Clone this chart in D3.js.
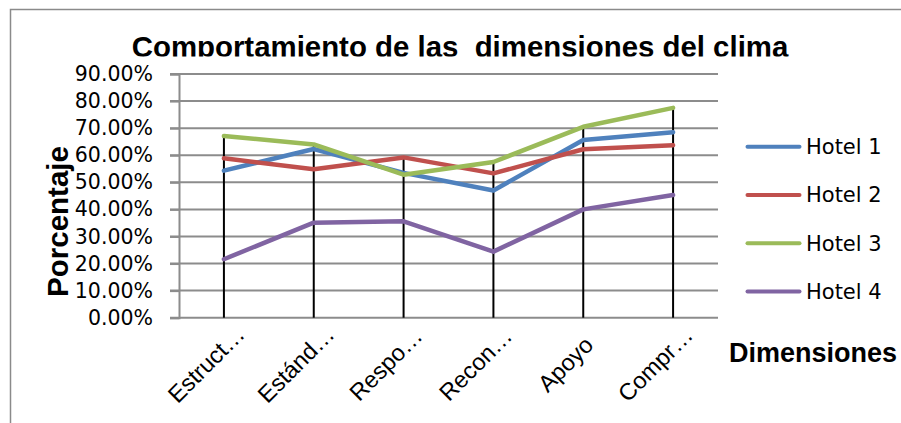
<!DOCTYPE html>
<html>
<head>
<meta charset="utf-8">
<script src="https://cdn.jsdelivr.net/npm/d3@7"></script>
<style>
  html, body { margin: 0; padding: 0; background: #fff; }
  svg { display: block; }
</style>
</head>
<body>
<svg id="chart" width="901" height="423"></svg>
<script>
// ---- data ----
const categories = ["Estruct…", "Estánd…", "Respo…", "Recon…", "Apoyo", "Compr…"];
const seriesNames = ["Hotel 1", "Hotel 2", "Hotel 3", "Hotel 4"];
const hotel1 = [0.543, 0.623, 0.535, 0.470, 0.656, 0.685];
const hotel2 = [0.589, 0.548, 0.592, 0.533, 0.622, 0.637];
const hotel3 = [0.671, 0.640, 0.528, 0.575, 0.705, 0.775];
const hotel4 = [0.216, 0.351, 0.356, 0.244, 0.400, 0.453];
const yTicks = [0, 0.1, 0.2, 0.3, 0.4, 0.5, 0.6, 0.7, 0.8, 0.9];
const colors = ["#4F81BD", "#C0504D", "#9BBB59", "#8064A2"];
const titleText = "Comportamiento de las  dimensiones del clima";
const yTitle = "Porcentaje";
const xTitle = "Dimensiones";

const seriesValues = [hotel1, hotel2, hotel3, hotel4];

// ---- layout ----
const svg = d3.select("#chart");
const plot = { left: 179, right: 718, top: 74, bottom: 317.7 };

const x = d3.scalePoint().domain(categories).range([plot.left, plot.right]).padding(0.5);
const y = d3.scaleLinear().domain([0, 0.9]).range([plot.bottom, plot.top]);

// outer frame (clipped by window)
svg.append("path")
  .attr("d", "M10.5,430 L10.5,9.5 L910,9.5")
  .attr("fill", "none").attr("stroke", "#8a8a8a").attr("stroke-width", 1.5);

// title (clipped at bottom as in reference)
svg.append("clipPath").attr("id", "titleClip")
  .append("rect").attr("x", 0).attr("y", 0).attr("width", 901).attr("height", 56.5);
svg.append("text")
  .attr("clip-path", "url(#titleClip)")
  .attr("x", 460).attr("y", 57)
  .attr("text-anchor", "middle")
  .style("white-space", "pre")
  .attr("font-family", "Liberation Sans, Arial, sans-serif")
  .attr("font-weight", "bold").attr("font-size", 29.4)
  .text(titleText);

// gridlines
svg.append("g").selectAll("line").data(yTicks).join("line")
  .attr("x1", plot.left - 9).attr("x2", plot.right)
  .attr("y1", d => y(d)).attr("y2", d => y(d))
  .attr("stroke", "#8c8c8c").attr("stroke-width", 2);

// y axis
const yAxis = svg.append("g")
  .attr("transform", `translate(${plot.left},0)`)
  .call(d3.axisLeft(y).tickValues(yTicks).tickFormat(d3.format(".2%")).tickSize(9).tickPadding(17));
yAxis.select(".domain").attr("stroke", "#8c8c8c").attr("stroke-width", 2);
yAxis.selectAll(".tick line").attr("stroke", "#8c8c8c").attr("stroke-width", 2);
yAxis.selectAll(".tick text")
  .attr("font-family", "DejaVu Sans, sans-serif").attr("font-size", 20.5)
  .attr("fill", "#000");

// drop lines (max value to axis)
svg.append("g").selectAll("line").data(categories).join("line")
  .attr("x1", d => x(d)).attr("x2", d => x(d))
  .attr("y1", (d, i) => y(d3.max(seriesValues, s => s[i])))
  .attr("y2", y(0))
  .attr("stroke", "#000").attr("stroke-width", 2);

// series lines
const line = d3.line().x((d, i) => x(categories[i])).y(d => y(d));
svg.append("g").selectAll("path").data(seriesValues).join("path")
  .attr("d", d => line(d))
  .attr("fill", "none")
  .attr("stroke", (d, i) => colors[i])
  .attr("stroke-width", 4.5)
  .attr("stroke-linejoin", "round")
  .attr("stroke-linecap", "round");

// x labels
svg.append("g").selectAll("text").data(categories).join("text")
  .attr("transform", d => `translate(${x(d) - 12},${370}) rotate(-45)`)
  .attr("text-anchor", "middle")
  .attr("font-family", "Liberation Sans, Arial, sans-serif")
  .attr("font-size", 23.5)
  .text(d => d);

// axis titles
svg.append("text")
  .attr("transform", "translate(67.5,221.5) rotate(-90)")
  .attr("text-anchor", "middle")
  .attr("font-family", "Liberation Sans, Arial, sans-serif")
  .attr("font-weight", "bold").attr("font-size", 29.5)
  .text(yTitle);

svg.append("text")
  .attr("x", 729).attr("y", 362)
  .attr("font-family", "Liberation Sans, Arial, sans-serif")
  .attr("font-weight", "bold").attr("font-size", 27)
  .text(xTitle);

// legend
const legend = svg.append("g").selectAll("g").data(seriesNames).join("g")
  .attr("transform", (d, i) => `translate(746,${146.7 + i * 48.3})`);
legend.append("line")
  .attr("x1", 1.5).attr("x2", 53.5).attr("y1", 0).attr("y2", 0)
  .attr("stroke", (d, i) => colors[i]).attr("stroke-width", 4)
  .attr("stroke-linecap", "round");
legend.append("text")
  .attr("x", 60).attr("y", 0).attr("dy", "0.35em")
  .attr("font-family", "DejaVu Sans, sans-serif").attr("font-size", 21)
  .text(d => d);
</script>
</body>
</html>
